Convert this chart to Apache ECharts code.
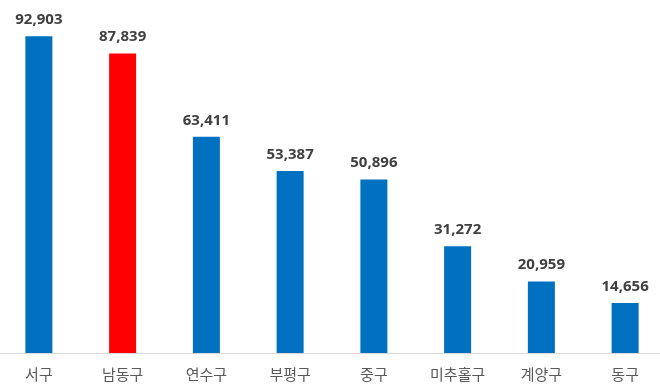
<!DOCTYPE html>
<html><head><meta charset="utf-8">
<script src="https://cdn.jsdelivr.net/npm/echarts@6/dist/echarts.min.js"></script>
<style>html,body{margin:0;padding:0;background:#fff;overflow:hidden;width:660px;height:389px}#c{width:670px;height:389px;margin-left:-3px}</style>
</head><body><div id="c"></div>
<script>
const categories = ['서구','남동구','연수구','부평구','중구','미추홀구','계양구','동구'];
const values = [92903, 87839, 63411, 53387, 50896, 31272, 20959, 14656];
const colors = ['#0070C0','#FF0000','#0070C0','#0070C0','#0070C0','#0070C0','#0070C0','#0070C0'];

const chart = echarts.init(document.getElementById('c'));
chart.setOption({
  animation: false,
  grid: {left: 0, right: 0, top: 12, bottom: 36, containLabel: false},
  xAxis: {
    type: 'category', data: categories,
    axisLine: {lineStyle: {color: '#D9D9D9', width: 1}},
    axisTick: {show: false},
    axisLabel: {color: '#595959', fontSize: 15, fontFamily: 'Noto Sans CJK KR', margin: 14}
  },
  yAxis: {type: 'value', min: 0, max: 100000, show: false, splitLine: {show: false}},
  series: [{
    type: 'bar', barWidth: 27,
    data: values.map((v, i) => ({value: v, itemStyle: {color: colors[i]}})),
    label: {
      show: true, position: 'top', distance: 9,
      color: '#404040', fontSize: 15, fontWeight: 'bold', fontFamily: 'Noto Sans',
      formatter: p => p.value.toLocaleString('en-US')
    }
  }]
});
</script></body></html>
